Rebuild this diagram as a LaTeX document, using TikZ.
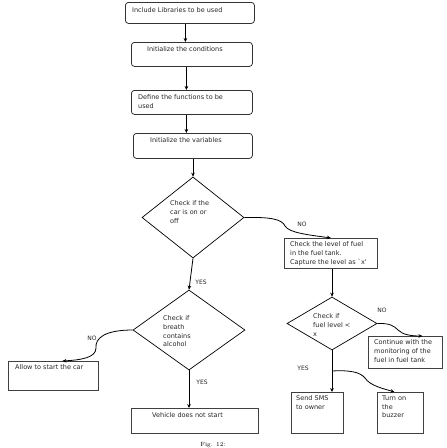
\documentclass[tikz,border=0pt]{standalone}
\usepackage{fontspec}
\newfontfamily\df{DejaVu Sans}
\usetikzlibrary{arrows.meta,shapes.geometric}
\begin{document}
\begin{tikzpicture}[x=1pt,y=-1pt,
  rbox/.style={draw=black!80,line width=0.8pt,rounded corners=3pt,anchor=north west,inner sep=0pt},
  sbox/.style={draw=black!75,line width=0.8pt,anchor=north west,inner sep=0pt},
  dia/.style={draw=black,line width=0.7pt,diamond,inner sep=0pt},
  txt/.style={font=\df\fontsize{6.5}{8.7}\selectfont,align=left,anchor=north west,inner sep=0pt,text=black!85,yshift=-1.5pt},
  lbl/.style={font=\df\fontsize{6}{7}\selectfont,inner sep=0pt,text=black!85},
  arr/.style={line width=0.8pt,-{Stealth[length=4pt,width=3.6pt]}},
  ln/.style={line width=0.8pt}]
\useasboundingbox (0,0) rectangle (447,448);
% boxes
\node[rbox,minimum width=129pt,minimum height=21pt] (b1) at (125,2) {};
\node[rbox,minimum width=121pt,minimum height=24pt] (b2) at (131,42) {};
\node[rbox,minimum width=121pt,minimum height=24pt] (b3) at (131,90) {};
\node[rbox,minimum width=119pt,minimum height=25pt] (b4) at (133,133) {};
\node[sbox,minimum width=93pt,minimum height=30pt] (b5) at (284,238) {};
\node[sbox,minimum width=90pt,minimum height=29pt] (b6) at (8,361) {};
\node[sbox,minimum width=127pt,minimum height=25pt] (b7) at (131,408) {};
\node[sbox,minimum width=74pt,minimum height=32pt] (b8) at (368,336) {};
\node[sbox,minimum width=52pt,minimum height=41pt] (b9) at (291,392) {};
\node[sbox,minimum width=46pt,minimum height=41pt] (b10) at (377,392) {};
% diamonds
\node[dia,minimum width=102pt,minimum height=81pt] (d1) at (193,217.5) {};
\node[dia,minimum width=112pt,minimum height=80pt] (d2) at (189,330) {};
\node[dia,minimum width=90pt,minimum height=53pt] (d3) at (332,323.5) {};
% texts
\node[txt] (t1) at (132,6) {Include Libraries to be used};
\node[txt] (t2) at (147,45) {Initialize the conditions};
\node[txt] (t3) at (138,93) {Define the functions to be\\used};
\node[txt] (t4) at (150,135.5) {Initialize the variables};
\node[txt] (td1) at (170,199) {Check if the\\car is on or\\off};
\node[txt] (t5) at (290,240) {Check the level of fuel\\in the fuel tank.\\Capture the level as `x'};
\node[txt] (td2) at (163,314) {Check if\\breath\\contains\\alcohol};
\node[txt] (t6) at (15,363) {Allow to start the car};
\node[txt] (t7) at (152,411) {Vehicle does not start};
\node[txt] (td3) at (313,312) {Check if\\fuel level <\\x};
\node[txt] (t8) at (374,338) {Continue with the\\monitoring of the\\fuel in fuel tank};
\node[txt] (t9) at (296,394) {Send SMS\\to owner};
\node[txt] (t10) at (382,394) {Turn on\\the\\buzzer};
% labels
\node[lbl] (n1) at (302,224) {NO};
\node[lbl] (y1) at (201,282) {YES};
\node[lbl] (n2) at (92,338) {NO};
\node[lbl] (y2) at (202,382) {YES};
\node[lbl] (n3) at (382,310) {NO};
\node[lbl] (y3) at (303,368) {YES};
% connectors
\draw[arr] ([xshift=-4.5pt]b1.south) -- ([xshift=-4.5pt]b1.south |- b2.north);
\draw[arr] ([xshift=-5.5pt]b2.south) -- ([xshift=-5.5pt]b2.south |- b3.north);
\draw[arr] ([xshift=-5.5pt]b3.south) -- ([xshift=-5.5pt]b3.south |- b4.north);
\draw[arr] (d1.north |- b4.south) -- (d1.north);
\draw[arr] (d1.south) -- (d2.north);
\draw[arr] (d2.south) -- (d2.south |- b7.north);
\draw[arr] (d1.east) .. controls (270,217) and (282,219) .. (285,226) .. controls (289,233) and (310,235) .. (b5.north);
\draw[arr] (d3.north |- b5.south) -- (d3.north);
\draw[arr] (d2.west) .. controls (105,330) and (95,338) .. (96,348) .. controls (96,358) and (80,360) .. ([xshift=9pt]b6.north);
\draw[arr] (d3.east) .. controls (390,323) and (394,326) .. (398,330) .. controls (403,335) and (412,336) .. ([xshift=17pt]b8.north);
\draw[arr] (d3.south) -- (d3.south |- b9.north);
\coordinate (br) at (332,371);
\draw[arr] (br) .. controls (350,370) and (360,372) .. (365,378) .. controls (370,386) and (385,389) .. ([xshift=-6pt]b10.north);
% caption
\node[font=\fontsize{6}{7}\selectfont,anchor=south,inner sep=0pt] (cap) at (213,447.5) {Fig. 12:};
\end{tikzpicture}
\end{document}
